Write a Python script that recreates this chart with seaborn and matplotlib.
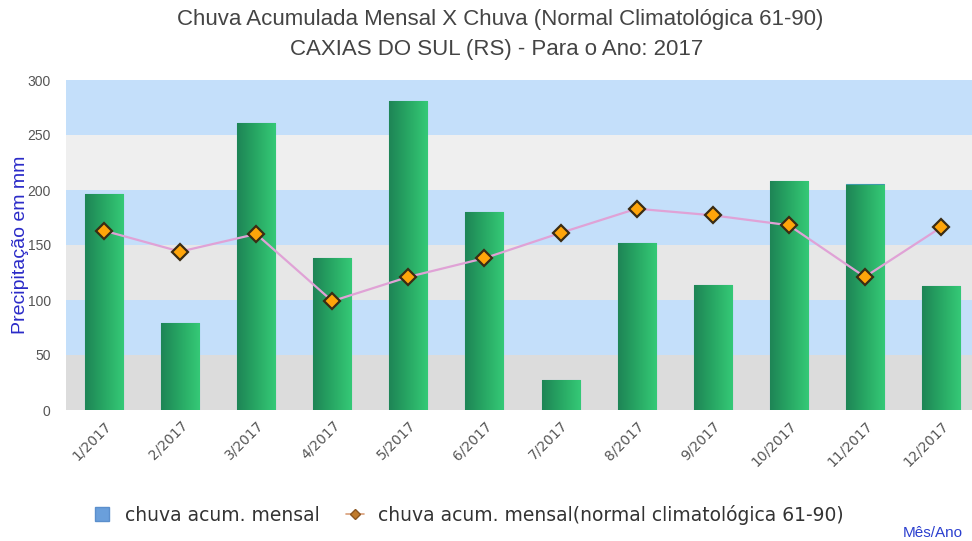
import numpy as np
import matplotlib
matplotlib.use("Agg")
import matplotlib.pyplot as plt
from matplotlib.colors import LinearSegmentedColormap
from matplotlib.lines import Line2D
import seaborn as sns

# Monthly precipitation (mm) for Caxias do Sul, 2017
months = ["1/2017", "2/2017", "3/2017", "4/2017", "5/2017", "6/2017",
          "7/2017", "8/2017", "9/2017", "10/2017", "11/2017", "12/2017"]
chuva_mensal = [196, 79, 261, 138, 281, 180, 27, 152, 114, 208, 205, 113]
normal_6190 = [163, 144, 160, 99, 121, 138, 161, 183, 177, 168, 121, 166]
y_ticks = [0, 50, 100, 150, 200, 250, 300]

sns.set_theme(style="white")
plt.rcParams["font.family"] = ["DejaVu Sans"]

fig = plt.figure(figsize=(9.72, 5.41), dpi=100)
ax = fig.add_axes([66 / 972, 1 - 410 / 541, 913 / 972, 330 / 541])

# alternating background bands
band_colors = ["#DCDCDC", "#C4DFFA", "#E7E7E7", "#C4DFFA", "#EFEFEF", "#C4DFFA"]
for lo, hi, c in zip(y_ticks[:-1], y_ticks[1:], band_colors):
    ax.axhspan(lo, hi, color=c, zorder=0, lw=0)

sns.barplot(x=months, y=chuva_mensal, color="#27A865", width=0.5,
            edgecolor="#3C9CA8", linewidth=0.8, ax=ax, zorder=2)

# horizontal green shading on each bar
green = LinearSegmentedColormap.from_list("g", ["#1E8556", "#28A864", "#35C977"])
grad = np.linspace(0, 1, 64).reshape(1, -1)
for p in ax.containers[0].patches:
    x0, y0 = p.get_x(), p.get_y()
    w, h = p.get_width(), p.get_height()
    im = ax.imshow(grad, cmap=green, aspect="auto", zorder=2.5,
                   extent=[x0, x0 + w, y0, y0 + h], interpolation="bicubic")
    im.set_clip_path(p)

ax.plot(np.arange(len(months)), normal_6190, color="#E0A2D6", lw=1.6,
        marker="D", markersize=8.5, markerfacecolor="#FFA50A",
        markeredgecolor="#3A2C14", markeredgewidth=1.6, zorder=4)

ax.set_xlim(-0.5, 11.5)
ax.set_ylim(0, 300)
ax.set_yticks(y_ticks)
ax.set_yticklabels([str(v) for v in y_ticks], family="Liberation Sans",
                   fontsize=10, color="#555555")
ax.set_xticks(np.arange(len(months)))
ax.set_xticklabels(months, rotation=45, ha="right", rotation_mode="anchor",
                   fontsize=10, color="#555555")
ax.tick_params(axis="y", pad=11, length=0)
ax.tick_params(axis="x", pad=6, length=0)
for s in ax.spines.values():
    s.set_visible(False)
ax.set_xlabel("")
ax.set_ylabel("Precipitação em mm", family="Liberation Sans", fontsize=14,
              color="#2B2BC8")
ax.yaxis.set_label_coords(-0.041, 0.5)

fig.text(500 / 972, 1 - 19 / 541,
         "Chuva Acumulada Mensal X Chuva (Normal Climatológica 61-90)",
         ha="center", va="center", family="Liberation Sans", fontsize=16,
         color="#444444")
fig.text(497 / 972, 1 - 49 / 541, "CAXIAS DO SUL (RS) - Para o Ano: 2017",
         ha="center", va="center", family="Liberation Sans", fontsize=16,
         color="#444444")

handles = [
    Line2D([], [], ls="none", marker="s", markersize=10,
           markerfacecolor="#6A9FDB", markeredgecolor="#5B8FCC"),
    Line2D([], [], color="#D9A07A", lw=1.2, marker="D", markersize=5,
           markerfacecolor="#C07A2A", markeredgecolor="#8A5520"),
]
fig.legend(handles, ["chuva acum. mensal",
                     "chuva acum. mensal(normal climatológica 61-90)"],
           loc="center", bbox_to_anchor=(468 / 972, 1 - 515 / 541), ncol=2,
           frameon=False, fontsize=13.5, handlelength=1.0, handletextpad=0.7,
           columnspacing=1.4, labelcolor="#333333")

fig.text(903 / 972, 1 - 533 / 541, "Mês/Ano", ha="left", va="center",
         family="Liberation Sans", fontsize=11, color="#2B3FCF")

fig.savefig("out.png", dpi=100)
